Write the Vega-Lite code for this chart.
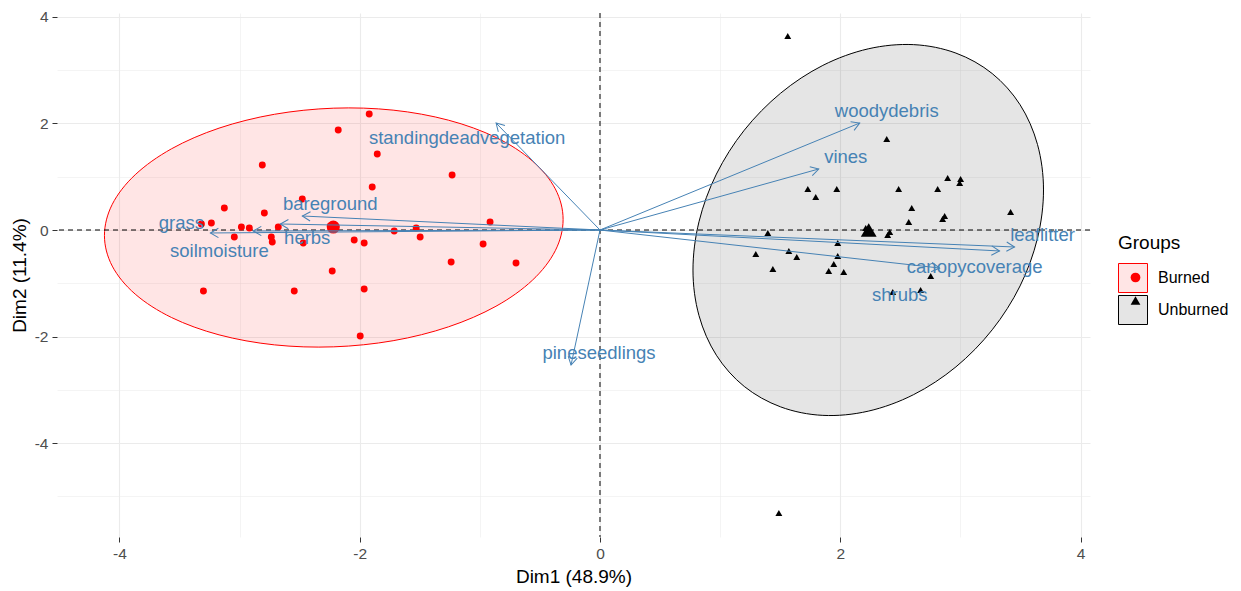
{
  "$schema": "https://vega.github.io/schema/vega-lite/v6.json",
  "width": 1033,
  "height": 524,
  "autosize": {"type": "none"},
  "padding": {"left": 57, "top": 13, "right": 151, "bottom": 54},
  "background": "white",
  "config": {"view": {"stroke": null}, "font": "Liberation Sans"},
  "datasets": {
    "ind": [
      {"group": "Burned", "x": -1.921, "y": 2.178}, {"group": "Burned", "x": -2.179, "y": 1.878}, {"group": "Burned", "x": -1.854, "y": 1.427},
      {"group": "Burned", "x": -1.231, "y": 1.033}, {"group": "Burned", "x": -1.896, "y": 0.808}, {"group": "Burned", "x": -2.811, "y": 1.221},
      {"group": "Burned", "x": -2.478, "y": 0.582}, {"group": "Burned", "x": -3.127, "y": 0.413}, {"group": "Burned", "x": -2.794, "y": 0.319},
      {"group": "Burned", "x": -3.235, "y": 0.131}, {"group": "Burned", "x": -3.318, "y": 0.113}, {"group": "Burned", "x": -2.985, "y": 0.056},
      {"group": "Burned", "x": -2.919, "y": 0.038}, {"group": "Burned", "x": -2.678, "y": 0.056}, {"group": "Burned", "x": -3.044, "y": -0.131},
      {"group": "Burned", "x": -2.736, "y": -0.131}, {"group": "Burned", "x": -2.728, "y": -0.225}, {"group": "Burned", "x": -2.470, "y": -0.244},
      {"group": "Burned", "x": -2.046, "y": -0.188}, {"group": "Burned", "x": -1.963, "y": -0.244}, {"group": "Burned", "x": -1.713, "y": -0.019},
      {"group": "Burned", "x": -2.229, "y": -0.770}, {"group": "Burned", "x": -3.301, "y": -1.146}, {"group": "Burned", "x": -2.545, "y": -1.146},
      {"group": "Burned", "x": -1.963, "y": -1.108}, {"group": "Burned", "x": -0.915, "y": 0.150}, {"group": "Burned", "x": -1.530, "y": 0.038},
      {"group": "Burned", "x": -1.497, "y": -0.131}, {"group": "Burned", "x": -0.973, "y": -0.263}, {"group": "Burned", "x": -1.239, "y": -0.601},
      {"group": "Burned", "x": -0.699, "y": -0.620}, {"group": "Burned", "x": -1.996, "y": -1.991}, {"group": "Burned", "x": -2.245, "y": 0.075},
      {"group": "Unburned", "x": 2.387, "y": 1.709}, {"group": "Unburned", "x": 2.894, "y": 0.977}, {"group": "Unburned", "x": 3.002, "y": 0.958},
      {"group": "Unburned", "x": 2.994, "y": 0.883}, {"group": "Unburned", "x": 1.730, "y": 0.770}, {"group": "Unburned", "x": 1.971, "y": 0.770},
      {"group": "Unburned", "x": 2.486, "y": 0.770}, {"group": "Unburned", "x": 2.811, "y": 0.770}, {"group": "Unburned", "x": 1.796, "y": 0.620},
      {"group": "Unburned", "x": 2.595, "y": 0.413}, {"group": "Unburned", "x": 3.418, "y": 0.338}, {"group": "Unburned", "x": 2.869, "y": 0.263},
      {"group": "Unburned", "x": 2.852, "y": 0.207}, {"group": "Unburned", "x": 2.570, "y": 0.150}, {"group": "Unburned", "x": 2.412, "y": -0.038},
      {"group": "Unburned", "x": 2.395, "y": -0.094}, {"group": "Unburned", "x": 1.397, "y": -0.056}, {"group": "Unburned", "x": 1.979, "y": -0.244},
      {"group": "Unburned", "x": 1.297, "y": -0.451}, {"group": "Unburned", "x": 1.572, "y": -0.394}, {"group": "Unburned", "x": 1.638, "y": -0.507},
      {"group": "Unburned", "x": 1.979, "y": -0.488}, {"group": "Unburned", "x": 1.946, "y": -0.638}, {"group": "Unburned", "x": 1.439, "y": -0.732},
      {"group": "Unburned", "x": 1.904, "y": -0.770}, {"group": "Unburned", "x": 2.029, "y": -0.789}, {"group": "Unburned", "x": 2.753, "y": -0.864},
      {"group": "Unburned", "x": 2.437, "y": -1.164}, {"group": "Unburned", "x": 2.669, "y": -1.127}, {"group": "Unburned", "x": 1.563, "y": 3.643},
      {"group": "Unburned", "x": 1.489, "y": -5.315}, {"group": "Unburned", "x": 2.212, "y": 0.038}
    ],
    "mean": [
      {"group": "Burned", "x": -2.220, "y": 0.056},
      {"group": "Unburned", "x": 2.237, "y": 0.0}
    ],
    "ell": [
      {"group": "Burned", "i": 0, "x": -0.307, "y": 0.197}, {"group": "Burned", "i": 1, "x": -0.372, "y": 0.772},
      {"group": "Burned", "i": 2, "x": -0.563, "y": 1.297}, {"group": "Burned", "i": 3, "x": -0.866, "y": 1.738},
      {"group": "Burned", "i": 4, "x": -1.262, "y": 2.063}, {"group": "Burned", "i": 5, "x": -1.722, "y": 2.251},
      {"group": "Burned", "i": 6, "x": -2.216, "y": 2.288}, {"group": "Burned", "i": 7, "x": -2.710, "y": 2.173},
      {"group": "Burned", "i": 8, "x": -3.171, "y": 1.913}, {"group": "Burned", "i": 9, "x": -3.566, "y": 1.526},
      {"group": "Burned", "i": 10, "x": -3.869, "y": 1.038}, {"group": "Burned", "i": 11, "x": -4.060, "y": 0.482},
      {"group": "Burned", "i": 12, "x": -4.125, "y": -0.103}, {"group": "Burned", "i": 13, "x": -4.060, "y": -0.678},
      {"group": "Burned", "i": 14, "x": -3.869, "y": -1.204}, {"group": "Burned", "i": 15, "x": -3.566, "y": -1.644},
      {"group": "Burned", "i": 16, "x": -3.171, "y": -1.969}, {"group": "Burned", "i": 17, "x": -2.710, "y": -2.157},
      {"group": "Burned", "i": 18, "x": -2.216, "y": -2.194}, {"group": "Burned", "i": 19, "x": -1.722, "y": -2.079},
      {"group": "Burned", "i": 20, "x": -1.262, "y": -1.819}, {"group": "Burned", "i": 21, "x": -0.866, "y": -1.432},
      {"group": "Burned", "i": 22, "x": -0.563, "y": -0.944}, {"group": "Burned", "i": 23, "x": -0.372, "y": -0.388},
      {"group": "Unburned", "i": 0, "x": 3.692, "y": 0.752}, {"group": "Unburned", "i": 1, "x": 3.642, "y": 1.606},
      {"group": "Unburned", "i": 2, "x": 3.497, "y": 2.352}, {"group": "Unburned", "i": 3, "x": 3.265, "y": 2.938},
      {"group": "Unburned", "i": 4, "x": 2.963, "y": 3.322}, {"group": "Unburned", "i": 5, "x": 2.611, "y": 3.481},
      {"group": "Unburned", "i": 6, "x": 2.233, "y": 3.402}, {"group": "Unburned", "i": 7, "x": 1.855, "y": 3.091},
      {"group": "Unburned", "i": 8, "x": 1.504, "y": 2.570}, {"group": "Unburned", "i": 9, "x": 1.201, "y": 1.874},
      {"group": "Unburned", "i": 10, "x": 0.969, "y": 1.050}, {"group": "Unburned", "i": 11, "x": 0.824, "y": 0.154},
      {"group": "Unburned", "i": 12, "x": 0.774, "y": -0.752}, {"group": "Unburned", "i": 13, "x": 0.824, "y": -1.606},
      {"group": "Unburned", "i": 14, "x": 0.969, "y": -2.352}, {"group": "Unburned", "i": 15, "x": 1.201, "y": -2.938},
      {"group": "Unburned", "i": 16, "x": 1.504, "y": -3.322}, {"group": "Unburned", "i": 17, "x": 1.855, "y": -3.481},
      {"group": "Unburned", "i": 18, "x": 2.233, "y": -3.402}, {"group": "Unburned", "i": 19, "x": 2.611, "y": -3.091},
      {"group": "Unburned", "i": 20, "x": 2.963, "y": -2.570}, {"group": "Unburned", "i": 21, "x": 3.265, "y": -1.874},
      {"group": "Unburned", "i": 22, "x": 3.497, "y": -1.050}, {"group": "Unburned", "i": 23, "x": 3.642, "y": -0.154}
    ],
    "vars": [
      {"name": "standingdeadvegetation", "x": -0.865, "y": 2.009},
      {"name": "bareground", "x": -2.478, "y": 0.263},
      {"name": "herbs", "x": -2.661, "y": 0.113},
      {"name": "soilmoisture", "x": -2.886, "y": -0.019},
      {"name": "grass", "x": -3.243, "y": -0.056},
      {"name": "pineseedlings", "x": -0.241, "y": -2.535},
      {"name": "woodydebris", "x": 2.162, "y": 2.009},
      {"name": "vines", "x": 1.821, "y": 1.146},
      {"name": "leaflitter", "x": 3.451, "y": -0.319},
      {"name": "canopycoverage", "x": 3.326, "y": -0.394},
      {"name": "shrubs", "x": 2.827, "y": -0.714}
    ],
    "labels": [
      {"name": "standingdeadvegetation", "x": -1.106, "y": 1.728},
      {"name": "bareground", "x": -2.245, "y": 0.488},
      {"name": "herbs", "x": -2.437, "y": -0.150},
      {"name": "soilmoisture", "x": -3.168, "y": -0.394},
      {"name": "grass", "x": -3.484, "y": 0.131},
      {"name": "pineseedlings", "x": -0.008, "y": -2.310},
      {"name": "woodydebris", "x": 2.387, "y": 2.235},
      {"name": "vines", "x": 2.046, "y": 1.371},
      {"name": "leaflitter", "x": 3.684, "y": -0.094},
      {"name": "canopycoverage", "x": 3.119, "y": -0.695},
      {"name": "shrubs", "x": 2.495, "y": -1.221}
    ]
  },
  "layer": [
    {
      "data": {"name": "ell"},
      "mark": {"type": "line", "interpolate": "cardinal-closed", "strokeWidth": 1},
      "encoding": {
        "x": {
          "field": "x", "type": "quantitative", "title": "Dim1 (48.9%)",
          "scale": {"domain": [-4.52, 4.079], "nice": false, "zero": false},
          "axis": {
            "values": [-4, -3, -2, -1, 0, 1, 2, 3, 4],
            "labelExpr": "datum.value % 2 === 0 ? '' + datum.value : ''",
            "domain": false,
            "gridColor": "#EBEBEB",
            "gridWidth": {"condition": {"test": "datum.value % 2 === 0", "value": 1.1}, "value": 0.55},
            "tickOpacity": {"condition": {"test": "datum.value % 2 === 0", "value": 1}, "value": 0},
            "tickColor": "#333333", "tickSize": 5, "tickWidth": 1,
            "labelColor": "#4D4D4D", "labelFontSize": 15.5, "labelFont": "Liberation Sans", "labelPadding": 4,
            "titleFont": "Liberation Sans", "titleFontSize": 19, "titleFontWeight": "normal", "titleColor": "#000000", "titlePadding": 6
          }
        },
        "y": {
          "field": "y", "type": "quantitative", "title": "Dim2 (11.4%)",
          "scale": {"domain": [-5.765, 4.075], "nice": false, "zero": false},
          "axis": {
            "values": [-5, -4, -3, -2, -1, 0, 1, 2, 3, 4],
            "labelExpr": "datum.value % 2 === 0 ? '' + datum.value : ''",
            "domain": false,
            "gridColor": "#EBEBEB",
            "gridWidth": {"condition": {"test": "datum.value % 2 === 0", "value": 1.1}, "value": 0.55},
            "tickOpacity": {"condition": {"test": "datum.value % 2 === 0", "value": 1}, "value": 0},
            "tickColor": "#333333", "tickSize": 5, "tickWidth": 1,
            "labelColor": "#4D4D4D", "labelFontSize": 15.5, "labelFont": "Liberation Sans", "labelPadding": 4,
            "titleFont": "Liberation Sans", "titleFontSize": 19, "titleFontWeight": "normal", "titleColor": "#000000", "titlePadding": 5
          }
        },
        "order": {"field": "i", "type": "quantitative"},
        "fill": {
          "field": "group", "type": "nominal",
          "scale": {"range": ["rgba(255,0,0,0.1)", "rgba(0,0,0,0.1)"]},
          "legend": {
            "title": "Groups", "orient": "none", "legendX": 1061, "legendY": 221,
            "symbolType": "square", "symbolSize": 841, "symbolStrokeWidth": 1,
            "titleFont": "Liberation Sans", "titleFontSize": 19, "titleFontWeight": "normal", "titleColor": "#000000", "titlePadding": 10,
            "labelFont": "Liberation Sans", "labelFontSize": 16, "labelColor": "#000000", "labelOffset": 10,
            "rowPadding": -6, "padding": 0
          }
        },
        "stroke": {
          "field": "group", "type": "nominal",
          "scale": {"range": ["#FF0000", "#000000"]},
          "legend": {
            "title": "Groups", "orient": "none", "legendX": 1061, "legendY": 221,
            "symbolType": "square", "symbolSize": 841, "symbolStrokeWidth": 1,
            "titleFont": "Liberation Sans", "titleFontSize": 19, "titleFontWeight": "normal", "titleColor": "#000000", "titlePadding": 10,
            "labelFont": "Liberation Sans", "labelFontSize": 16, "labelColor": "#000000", "labelOffset": 10,
            "rowPadding": -6, "padding": 0
          }
        }
      }
    },
    {
      "data": {"values": [{}]},
      "mark": {"type": "rule", "strokeDash": [5, 4], "color": "#000000", "strokeWidth": 1},
      "encoding": {"x": {"datum": 0, "type": "quantitative"}}
    },
    {
      "data": {"values": [{}]},
      "mark": {"type": "rule", "strokeDash": [5, 4], "color": "#000000", "strokeWidth": 1},
      "encoding": {"y": {"datum": 0, "type": "quantitative"}}
    },
    {
      "data": {"name": "ind"},
      "mark": {"type": "point", "filled": true, "opacity": 1, "size": 48},
      "encoding": {
        "x": {"field": "x", "type": "quantitative", "title": "Dim1 (48.9%)"},
        "y": {"field": "y", "type": "quantitative", "title": "Dim2 (11.4%)"},
        "color": {
          "field": "group", "type": "nominal",
          "scale": {"range": ["#FF0000", "#000000"]},
          "legend": {"title": null, "orient": "none", "legendX": 1070.5, "legendY": 256.5, "symbolSize": 95, "labelExpr": "''", "labelFontSize": 16, "rowPadding": 7, "padding": 0}
        },
        "shape": {
          "field": "group", "type": "nominal",
          "scale": {"range": ["circle", "triangle-up"]},
          "legend": {"title": null, "orient": "none", "legendX": 1070.5, "legendY": 256.5, "symbolSize": 95, "labelExpr": "''", "labelFontSize": 16, "rowPadding": 7, "padding": 0}
        }
      }
    },
    {
      "data": {"name": "mean"},
      "mark": {"type": "point", "filled": true, "opacity": 1},
      "encoding": {
        "x": {"field": "x", "type": "quantitative", "title": "Dim1 (48.9%)"},
        "y": {"field": "y", "type": "quantitative", "title": "Dim2 (11.4%)"},
        "color": {"field": "group", "type": "nominal", "legend": null},
        "shape": {"field": "group", "type": "nominal", "legend": null},
        "size": {"field": "group", "type": "nominal", "scale": {"range": [170, 250]}, "legend": null}
      }
    },
    {
      "data": {"name": "vars"},
      "mark": {"type": "rule", "color": "#4682B4", "strokeWidth": 1},
      "encoding": {
        "x": {"field": "x", "type": "quantitative", "title": "Dim1 (48.9%)"},
        "y": {"field": "y", "type": "quantitative", "title": "Dim2 (11.4%)"},
        "x2": {"datum": 0},
        "y2": {"datum": 0}
      }
    },
    {
      "data": {"name": "vars"},
      "transform": [{"calculate": "atan2(-datum.y * 53.25, datum.x * 120.125) * 180 / PI", "as": "angle"}],
      "mark": {"type": "point", "shape": "M-1,-0.58L0,0L-1,0.58", "filled": false, "color": "#4682B4", "strokeWidth": 1, "size": 256, "opacity": 1},
      "encoding": {
        "x": {"field": "x", "type": "quantitative", "title": "Dim1 (48.9%)"},
        "y": {"field": "y", "type": "quantitative", "title": "Dim2 (11.4%)"},
        "angle": {"field": "angle", "type": "quantitative", "scale": null}
      }
    },
    {
      "data": {"name": "labels"},
      "mark": {"type": "text", "color": "#4682B4", "fontSize": 18.5, "font": "Liberation Sans", "align": "center", "baseline": "middle"},
      "encoding": {
        "x": {"field": "x", "type": "quantitative", "title": "Dim1 (48.9%)"},
        "y": {"field": "y", "type": "quantitative", "title": "Dim2 (11.4%)"},
        "text": {"field": "name", "type": "nominal"}
      }
    }
  ]
}
